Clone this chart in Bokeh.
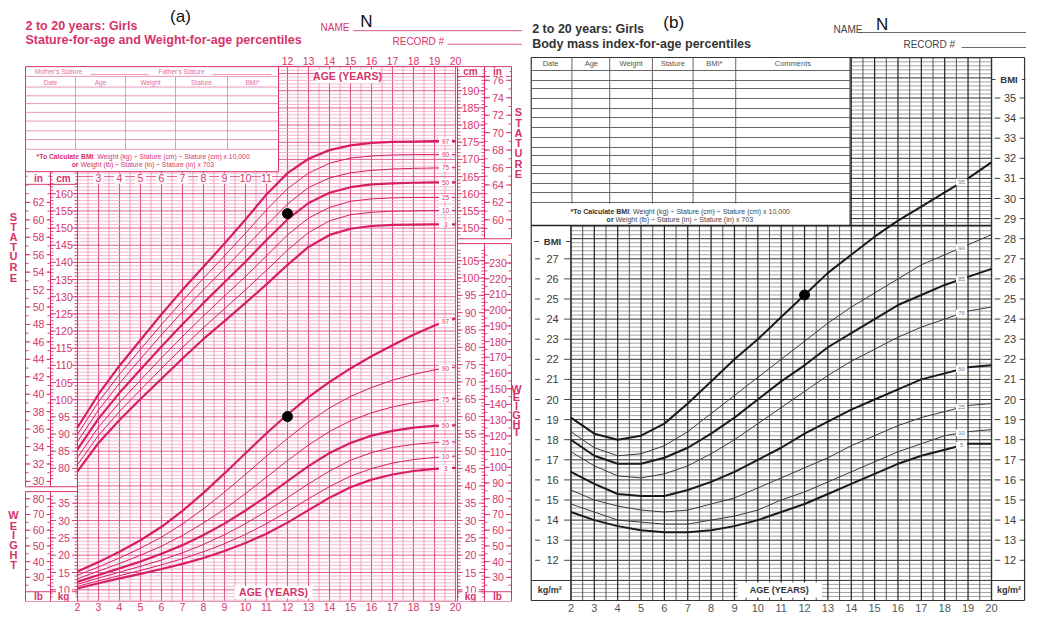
import numpy as np
from bokeh.plotting import figure
from bokeh.models import Range1d, FixedTicker
from bokeh.layouts import row
from bokeh.core.properties import value
from bokeh.embed import file_html
from bokeh.resources import INLINE

# ---------------- data ----------------
ages = [2, 3, 4, 5, 6, 7, 8, 9, 10, 11, 12, 13, 14, 15, 16, 17, 18, 19, 20]
age_ticks = list(range(2, 21))
top_age_ticks = list(range(12, 21))
inner_age_ticks = list(range(3, 12))

stature_p97 = [91.9, 101.6, 109.9, 117.4, 124.9, 132.0, 138.7, 145.5, 152.5, 159.8, 166.0, 170.2, 172.7, 174.1, 174.8, 175.1, 175.2, 175.3, 175.3]
stature_p90 = [89.9, 99.4, 107.4, 114.7, 121.9, 128.8, 135.4, 141.9, 148.5, 155.3, 161.5, 166.0, 168.9, 170.4, 171.0, 171.3, 171.4, 171.4, 171.4]
stature_p75 = [87.8, 97.0, 104.8, 111.9, 118.9, 125.6, 132.0, 138.2, 144.5, 150.8, 157.0, 161.8, 164.6, 166.1, 166.8, 167.2, 167.4, 167.5, 167.6]
stature_p50 = [85.5, 94.5, 102.0, 108.8, 115.5, 122.0, 128.2, 134.2, 140.2, 146.5, 152.5, 157.3, 160.3, 161.9, 162.7, 163.0, 163.2, 163.3, 163.3]
stature_p25 = [83.2, 92.0, 99.2, 105.7, 112.2, 118.4, 124.4, 130.2, 135.9, 141.9, 148.0, 152.9, 156.0, 157.8, 158.5, 158.8, 158.9, 158.9, 158.9]
stature_p10 = [81.1, 89.6, 96.6, 102.9, 109.1, 115.2, 121.0, 126.5, 132.0, 137.7, 143.6, 148.7, 152.1, 153.9, 154.6, 154.9, 155.0, 155.1, 155.1]
stature_p3 = [79.1, 87.4, 94.1, 100.2, 106.1, 112.0, 117.7, 122.9, 128.2, 133.6, 139.3, 144.5, 148.0, 149.8, 150.6, 150.9, 151.0, 151.1, 151.1]

weight_p97 = [15.3, 18.0, 21.0, 24.3, 28.2, 32.8, 38.0, 43.6, 49.4, 55.2, 60.6, 65.6, 70.0, 73.9, 77.4, 80.6, 83.6, 86.3, 88.4]
weight_p90 = [14.2, 16.6, 19.2, 22.0, 25.2, 29.0, 33.4, 38.2, 43.3, 48.6, 53.7, 58.4, 62.5, 65.8, 68.4, 70.5, 72.2, 73.5, 74.3]
weight_p75 = [13.2, 15.4, 17.6, 20.0, 22.6, 25.7, 29.3, 33.3, 37.8, 42.5, 47.3, 51.8, 55.7, 58.8, 61.1, 62.8, 64.0, 64.8, 65.3]
weight_p50 = [12.3, 14.3, 16.2, 18.2, 20.4, 22.9, 25.8, 29.1, 32.9, 37.0, 41.4, 45.7, 49.5, 52.4, 54.5, 55.9, 56.8, 57.3, 57.5]
weight_p25 = [11.6, 13.4, 15.1, 16.8, 18.6, 20.7, 23.1, 25.9, 29.1, 32.7, 36.6, 40.6, 44.3, 47.4, 49.6, 51.1, 52.0, 52.5, 52.7]
weight_p10 = [11.0, 12.6, 14.1, 15.6, 17.2, 19.0, 21.0, 23.3, 26.0, 29.1, 32.6, 36.3, 39.8, 42.8, 45.0, 46.6, 47.6, 48.2, 48.6]
weight_p3 = [10.4, 11.9, 13.3, 14.6, 16.0, 17.5, 19.2, 21.2, 23.5, 26.2, 29.4, 33.0, 36.6, 39.6, 41.8, 43.3, 44.3, 44.9, 45.2]

bmi_p95 = [19.1, 18.3, 18.0, 18.2, 18.8, 19.8, 20.9, 22.0, 23.0, 24.1, 25.2, 26.3, 27.2, 28.1, 28.9, 29.6, 30.3, 31.0, 31.8]
bmi_p90 = [18.4, 17.6, 17.2, 17.3, 17.7, 18.4, 19.3, 20.2, 21.1, 22.0, 22.9, 23.8, 24.6, 25.3, 26.0, 26.7, 27.2, 27.7, 28.2]
bmi_p85 = [18.0, 17.2, 16.8, 16.8, 17.1, 17.6, 18.3, 19.1, 20.0, 20.9, 21.7, 22.6, 23.3, 24.0, 24.7, 25.2, 25.7, 26.1, 26.5]
bmi_p75 = [17.4, 16.7, 16.2, 16.1, 16.3, 16.7, 17.3, 18.0, 18.8, 19.6, 20.4, 21.2, 21.9, 22.5, 23.1, 23.6, 24.0, 24.4, 24.6]
bmi_p50 = [16.4, 15.8, 15.3, 15.2, 15.2, 15.5, 15.9, 16.4, 17.0, 17.6, 18.3, 18.9, 19.5, 20.0, 20.5, 21.0, 21.3, 21.6, 21.7]
bmi_p25 = [15.5, 15.0, 14.7, 14.5, 14.4, 14.5, 14.8, 15.1, 15.6, 16.1, 16.6, 17.1, 17.7, 18.2, 18.7, 19.1, 19.4, 19.7, 19.8]
bmi_p10 = [14.8, 14.4, 14.0, 13.9, 13.8, 13.8, 14.0, 14.2, 14.5, 15.0, 15.4, 15.9, 16.4, 16.9, 17.4, 17.8, 18.2, 18.4, 18.5]
bmi_p5 = [14.4, 14.0, 13.7, 13.5, 13.4, 13.4, 13.5, 13.7, 14.0, 14.4, 14.8, 15.3, 15.8, 16.3, 16.8, 17.2, 17.5, 17.8, 17.8]

patient_age = [12]
patient_stature = [154.2]
patient_weight = [60.0]
patient_bmi = [25.2]

stature_ticks_left = list(range(80, 161, 5))
inch_ticks_left = list(range(30, 63, 2))
stature_ticks_right = list(range(150, 191, 5))
inch_ticks_right = list(range(60, 77, 2))
kg_ticks_left = list(range(10, 36, 5))
lb_ticks_left = list(range(30, 81, 10))
kg_ticks_right = list(range(10, 106, 5))
lb_ticks_right = list(range(30, 231, 10))
bmi_ticks_left = list(range(12, 28))
bmi_ticks_right = list(range(12, 36))

FONT = "Liberation Sans"


class Deco:
    def __init__(self, p, fx, fy):
        self.p, self.fx, self.fy = p, fx, fy

    def segs(self, segs, color, width):
        self.p.segment(x0=[self.fx(s[0]) for s in segs], y0=[self.fy(s[1]) for s in segs],
                       x1=[self.fx(s[2]) for s in segs], y1=[self.fy(s[3]) for s in segs],
                       line_color=color, line_width=width)

    def texts(self, items, size, color, bold=False, align="center", font=FONT):
        self.p.text(x=[self.fx(i[0]) for i in items], y=[self.fy(i[1]) for i in items],
                    text=[i[2] for i in items], text_font=value(font), text_font_size=size,
                    text_color=color, text_align=align, text_baseline="middle",
                    text_font_style="bold" if bold else "normal")

    def boxes(self, items, color="white"):
        self.p.quad(left=[self.fx(b[0]) for b in items], right=[self.fx(b[2]) for b in items],
                    top=[self.fy(b[1]) for b in items], bottom=[self.fy(b[3]) for b in items],
                    fill_color=color, line_color=None)


def style_xaxis(p, color, size):
    xa = p.xaxis[0]
    xa.ticker = FixedTicker(ticks=age_ticks)
    xa.axis_line_color = None
    xa.major_tick_line_color = None
    xa.minor_tick_line_color = None
    xa.major_tick_out = 0
    xa.major_tick_in = 0
    xa.major_label_standoff = 1
    xa.major_label_text_color = color
    xa.major_label_text_font = FONT
    xa.major_label_text_font_size = size


# ======================= Panel (a) =======================
PK_LINE = "#d81e63"
PK_TEXT = "#d6336c"
PK_MAJ = "#de4f86"
PK_MIN = "#ee9bbb"
PK_TAB = "#e57ba4"


def ax(xr):
    return 2 + (xr - 77) / 21.0


def ay(yr):
    return 150 + (234 - yr) / 3.53


def akg(yr):
    return 10 + (606 - yr) / 3.5625


KG2LB = 2.20462
pa = figure(width=522, height=617, x_range=Range1d(ax(0), ax(522)), y_range=Range1d(ay(618), ay(0)),
            output_backend="svg", toolbar_location=None, y_axis_location=None,
            min_border_left=0, min_border_right=0, min_border_top=0, min_border_bottom=13,
            outline_line_color=None, background_fill_color="white", border_fill_color="white")
pa.grid.visible = False
pa.extra_y_ranges = {
    "kg": Range1d(akg(618), akg(0)),
    "inch": Range1d(ay(618) / 2.54, ay(0) / 2.54),
    "lb": Range1d(akg(618) * KG2LB, akg(0) * KG2LB),
}
style_xaxis(pa, PK_TEXT, "10.5px")
da = Deco(pa, ax, ay)

# grid
half = np.arange(2.0, 20.01, 0.5)
vmaj = [(a, ay(68) if a >= 11.99 else ay(176), a, ay(618)) for a in half if a == int(a)]
vmin = [(a, ay(68) if a >= 11.99 else ay(176), a, ay(618)) for a in half if a != int(a)]
for segs, col, w in ((vmin, PK_MIN, 0.9), (vmaj, PK_MAJ, 1.1)):
    pa.segment(x0=[s[0] for s in segs], y0=[s[1] for s in segs], x1=[s[2] for s in segs],
               y1=[s[3] for s in segs], line_color=col, line_width=w)
hs_min, hs_maj = [], []
for c in range(77, 198):
    x0 = ax(278) if c > 166 else 2
    (hs_maj if c % 5 == 0 else hs_min).append((x0, c))
for segs, col, w in ((hs_min, PK_MIN, 0.7), (hs_maj, PK_MAJ, 0.9)):
    pa.segment(x0=[s[0] for s in segs], y0=[s[1] for s in segs], x1=[20] * len(segs),
               y1=[s[1] for s in segs], line_color=col, line_width=w)
hk_min = [k for k in range(7, 42) if k % 5]
hk_maj = [k for k in range(7, 42) if k % 5 == 0]
for ks, col, w in ((hk_min, PK_MIN, 0.7), (hk_maj, PK_MAJ, 0.9)):
    pa.segment(x0=[2] * len(ks), y0=ks, x1=[20] * len(ks), y1=ks, line_color=col,
               line_width=w, y_range_name="kg")

# frame / boxes
borders_a = [
    (25, 68, 511, 68), (25, 68, 25, 500), (25, 176, 278, 176), (278, 68, 278, 176),
    (50, 176, 50, 500), (77, 176, 77, 618), (25, 500, 77, 500), (25, 505, 77, 505),
    (25, 505, 25, 618), (50, 505, 50, 618), (25, 608, 77, 608), (25, 618, 511, 618),
    (457, 68, 457, 618), (484, 68, 484, 245), (511, 68, 511, 245), (457, 245, 511, 245),
    (457, 250, 511, 250), (484, 250, 484, 618), (511, 250, 511, 618), (457, 608, 511, 608),
    (25, 189, 77, 189), (457, 78, 511, 78),
]
da.segs(borders_a, PK_TEXT, 1.0)

# table
table_a = [(25, 78, 278, 78)] + [(25, y, 278, y) for y in (89, 98, 106, 115, 124, 134, 143, 153)] \
    + [(x, 78, x, 153) for x in (75, 125, 175, 227)] + [(90, 76, 148, 76), (212, 76, 271, 76)]
da.segs(table_a, PK_TAB, 0.8)
da.texts([(58, 73, "Mother's Stature"), (181, 73, "Father's Stature"),
          (50, 84, "Date"), (100, 84, "Age"), (150, 84, "Weight"), (201, 84, "Stature"),
          (252, 84, "BMI*")], "6.5px", "#e0709a")
da.texts([(93, 160, "*To Calculate BMI"), (78, 169, "or")], "6.8px", PK_TEXT, bold=True, align="right")
da.texts([(93, 160, ": Weight (kg) ÷ Stature (cm) ÷ Stature (cm) x 10,000"),
          (80, 169, "Weight (lb) ÷ Stature (in) ÷ Stature (in) x 703")], "6.8px", PK_TEXT, align="left")


# column ticks
def col_ticks(p, vals, xl, xr, length, rng, fx, color):
    segs = [(xl, v, xl + length, v) for v in vals] + [(xr - length, v, xr, v) for v in vals]
    kw = {} if rng is None else {"y_range_name": rng}
    p.segment(x0=[fx(s[0]) for s in segs], y0=[s[1] for s in segs], x1=[fx(s[2]) for s in segs],
              y1=[s[3] for s in segs], line_color=color, line_width=0.9, **kw)


for vals, xl, xr, ln, rng in (
        (list(range(30, 66)), 25, 50, 3, "inch"), (inch_ticks_left, 25, 50, 6, "inch"),
        (list(range(77, 167)), 50, 77, 3, None), (stature_ticks_left, 50, 77, 6, None),
        (list(range(8, 38)), 50, 77, 3, "kg"), (kg_ticks_left, 50, 77, 6, "kg"),
        (list(range(25, 82, 5)), 25, 50, 3, "lb"), (lb_ticks_left, 25, 50, 6, "lb"),
        (list(range(148, 197)), 457, 484, 3, None), (stature_ticks_right, 457, 484, 6, None),
        (list(range(59, 78)), 484, 511, 3, "inch"), (inch_ticks_right, 484, 511, 6, "inch"),
        (list(range(8, 109)), 457, 484, 3, "kg"), (kg_ticks_right, 457, 484, 6, "kg"),
        (list(range(25, 236, 5)), 484, 511, 3, "lb"), (lb_ticks_right, 484, 511, 6, "lb")):
    col_ticks(pa, vals, xl, xr, ln, rng, ax, PK_TEXT)


def tick_labels(p, fx, xr, vals, rng, color, size="10.5px"):
    kw = {} if rng is None else {"y_range_name": rng}
    p.rect(x=[fx(xr)] * len(vals), y=vals, width=16, height=9, width_units="screen",
           height_units="screen", fill_color="white", line_color=None, **kw)
    p.text(x=[fx(xr)] * len(vals), y=vals, text=[str(v) for v in vals], text_font=value(FONT),
           text_font_size=size, text_color=color, text_align="center", text_baseline="middle", **kw)


tick_labels(pa, ax, 38, inch_ticks_left, "inch", PK_TEXT)
tick_labels(pa, ax, 63.5, stature_ticks_left, None, PK_TEXT)
tick_labels(pa, ax, 63.5, kg_ticks_left, "kg", PK_TEXT)
tick_labels(pa, ax, 38, lb_ticks_left, "lb", PK_TEXT)
tick_labels(pa, ax, 470, stature_ticks_right, None, PK_TEXT)
tick_labels(pa, ax, 497.5, inch_ticks_right, "inch", PK_TEXT)
tick_labels(pa, ax, 470, kg_ticks_right, "kg", PK_TEXT)
tick_labels(pa, ax, 497.5, lb_ticks_right, "lb", PK_TEXT)

# curves
stature_series = [("97", stature_p97, True), ("90", stature_p90, False), ("75", stature_p75, False),
                  ("50", stature_p50, True), ("25", stature_p25, False), ("10", stature_p10, False),
                  ("3", stature_p3, True)]
weight_series = [("97", weight_p97, True), ("90", weight_p90, False), ("75", weight_p75, False),
                 ("50", weight_p50, True), ("25", weight_p25, False), ("10", weight_p10, False),
                 ("3", weight_p3, True)]
for lab, vals, thick in stature_series:
    pa.line(ages, vals, line_color=PK_LINE, line_width=2.2 if thick else 1.0)
for lab, vals, thick in weight_series:
    pa.line(ages, vals, line_color=PK_LINE, line_width=2.2 if thick else 1.0, y_range_name="kg")

lab_age_a = ax(445)
for series, rng in ((stature_series, None), (weight_series, "kg")):
    kw = {} if rng is None else {"y_range_name": rng}
    ys = [float(np.interp(lab_age_a, ages, s[1])) for s in series]
    pa.rect(x=[lab_age_a] * len(ys), y=ys, width=13, height=7, width_units="screen",
            height_units="screen", fill_color="white", line_color=None, **kw)
    pa.text(x=[lab_age_a] * len(ys), y=ys, text=[s[0] for s in series], text_font=value(FONT),
            text_font_size="6.5px", text_color=PK_TEXT, text_align="center", text_baseline="middle", **kw)

# labels
da.boxes([(316, 71, 378, 85), (234, 602, 312, 615)])
da.texts([(347, 78, "AGE (YEARS)"), (273, 608, "AGE (YEARS)")], "10.5px", PK_TEXT, bold=True)
da.texts([(25, 26, "2 to 20 years: Girls"), (25, 41, "Stature-for-age and Weight-for-age percentiles")],
         "12.5px", PK_TEXT, bold=True, align="left")
da.texts([(180, 16, "(a)"), (366, 22, "N")], "17px", "#111111")
da.texts([(320, 28, "NAME"), (392, 42, "RECORD #")], "10px", PK_TEXT, align="left")
da.segs([(353, 31, 522, 31), (447, 45, 522, 45)], PK_TEXT, 0.8)
pa.text(x=top_age_ticks, y=[ay(62)] * len(top_age_ticks), text=[str(v) for v in top_age_ticks],
        text_font=value(FONT), text_font_size="10.5px", text_color=PK_TEXT, text_align="center",
        text_baseline="middle")
pa.rect(x=inner_age_ticks, y=[ay(183)] * len(inner_age_ticks), width=11, height=10, width_units="screen",
        height_units="screen", fill_color="white", line_color=None)
pa.text(x=inner_age_ticks, y=[ay(183)] * len(inner_age_ticks), text=[str(v) for v in inner_age_ticks],
        text_font=value(FONT), text_font_size="10.5px", text_color=PK_TEXT, text_align="center",
        text_baseline="middle")
da.boxes([(27, 178, 48, 188), (52, 178, 75, 188), (27, 609, 48, 617), (52, 609, 75, 617),
          (459, 609, 482, 617), (486, 609, 509, 617), (459, 69, 482, 77), (486, 69, 509, 77)])
da.texts([(38, 183, "in"), (63, 183, "cm"), (38, 613, "lb"), (63, 613, "kg"),
          (470, 613, "kg"), (497, 613, "lb"), (470, 73, "cm"), (497, 73, "in")],
         "10px", PK_TEXT, bold=True)
da.texts([(13, y, ch) for y, ch in zip((223, 233, 243, 253, 263, 274, 285), "STATURE")]
         + [(13, y, ch) for y, ch in zip((529, 540, 550, 560, 570, 580), "WEIGHT")]
         + [(518, y, ch) for y, ch in zip((115, 126, 136, 147, 157, 168, 178), "STATURE")]
         + [(516, y, ch) for y, ch in zip((400, 408, 417, 426, 435, 444), "WEIGHT")],
         "11px", PK_TEXT, bold=True)

# patient points
pa.scatter(patient_age, patient_stature, size=10, color="black")
pa.scatter(patient_age, patient_weight, size=10, color="black", y_range_name="kg")

# ======================= Panel (b) =======================
G_TXT = "#3c3c3c"


def bx(xr):
    return 2 + (xr - 572) / 24.1


def by(yr):
    return 20 + (399 - yr) / 20.1


pb = figure(width=504, height=617, x_range=Range1d(bx(522), bx(1042)), y_range=Range1d(by(601), by(0)),
            output_backend="svg", toolbar_location=None, y_axis_location=None,
            min_border_left=0, min_border_right=0, min_border_top=0, min_border_bottom=16,
            outline_line_color=None, background_fill_color="white", border_fill_color="white")
pb.grid.visible = False
style_xaxis(pb, "#555555", "11px")
pb.xaxis[0].major_label_standoff = 2
db = Deco(pb, bx, by)

vmaj = [(a, by(57) if a >= 13.99 else by(225)) for a in half if a == int(a)]
vmin = [(a, by(57) if a >= 13.99 else by(225)) for a in half if a != int(a)]
hmaj, hmin = [], []
for i in range(50, 186):
    b = i / 5.0
    x0 = bx(860) if b > by(225) else 2
    (hmaj if i % 5 == 0 else hmin).append((x0, b))
pb.segment(x0=[s[0] for s in hmin], y0=[s[1] for s in hmin], x1=[20] * len(hmin), y1=[s[1] for s in hmin],
           line_color="#7a7a7a", line_width=0.7)
pb.segment(x0=[s[0] for s in hmaj], y0=[s[1] for s in hmaj], x1=[20] * len(hmaj), y1=[s[1] for s in hmaj],
           line_color="#2e2e2e", line_width=1.0)
pb.segment(x0=[s[0] for s in vmin], y0=[s[1] for s in vmin], x1=[s[0] for s in vmin],
           y1=[by(600)] * len(vmin), line_color="#444444", line_width=0.9)
pb.segment(x0=[s[0] for s in vmaj], y0=[s[1] for s in vmaj], x1=[s[0] for s in vmaj],
           y1=[by(600)] * len(vmaj), line_color="#222222", line_width=1.2)

db.segs([(531, 57, 1040, 57), (531, 57, 531, 600), (1040, 57, 1040, 600), (531, 600, 1040, 600),
         (860, 57, 860, 225), (572, 225, 572, 600), (1006, 57, 1006, 600),
         (531, 580, 572, 580), (1006, 580, 1040, 580)], "#333333", 1.2)
db.segs([(531, 225, 1006, 225)], "#222222", 1.6)
table_b = [(x, 57, x, 203) for x in (573, 612, 656, 698, 742)] + \
    [(531, y, 860, y) for y in (70, 80, 88, 98, 108, 117, 127, 137, 147, 155, 165, 173, 183, 192, 202)]
db.segs(table_b, "#555555", 0.9)
db.texts([(551, 63, "Date"), (593, 63, "Age"), (634, 63, "Weight"), (677, 63, "Stature"),
          (720, 63, "BMI*"), (801, 63, "Comments")], "7.5px", "#555555")
db.texts([(632, 211, "*To Calculate BMI"), (616, 219, "or")], "7px", "#333333", bold=True, align="right")
db.texts([(632, 211, ": Weight (kg) ÷ Stature (cm) ÷ Stature (cm) x 10,000"),
          (618, 219, "Weight (lb) ÷ Stature (in) ÷ Stature (in) x 703")], "7px", "#444444", align="left")

# BMI columns
lt = [(535, b, 540, b) for b in bmi_ticks_left] + [(565, b, 571, b) for b in bmi_ticks_left]
rt = [(1009, b, 1015, b) for b in bmi_ticks_right] + [(1035, b, 1041, b) for b in bmi_ticks_right]
pb.segment(x0=[bx(s[0]) for s in lt + rt], y0=[s[1] for s in lt + rt], x1=[bx(s[2]) for s in lt + rt],
           y1=[s[3] for s in lt + rt], line_color="#444444", line_width=1.0)
pb.text(x=[bx(553)] * len(bmi_ticks_left), y=bmi_ticks_left, text=[str(v) for v in bmi_ticks_left],
        text_font=value(FONT), text_font_size="11px", text_color=G_TXT, text_align="center",
        text_baseline="middle")
pb.text(x=[bx(1025)] * len(bmi_ticks_right), y=bmi_ticks_right, text=[str(v) for v in bmi_ticks_right],
        text_font=value(FONT), text_font_size="11px", text_color=G_TXT, text_align="center",
        text_baseline="middle")
db.segs([(534, 241, 539, 241), (567, 241, 572, 241), (1006, 79, 1010, 79), (1037, 79, 1041, 79)], "#444444", 1.0)
db.texts([(553, 241, "BMI"), (1024, 79, "BMI")], "9.5px", "#333333", bold=True)
db.boxes([(744, 582, 831, 597)])
db.texts([(550, 589, "kg/m²"), (1024, 589, "kg/m²"), (787, 589, "AGE (YEARS)")], "9px", "#333333", bold=True)

bmi_series = [("95", bmi_p95, True), ("90", bmi_p90, False), ("85", bmi_p85, True), ("75", bmi_p75, False),
              ("50", bmi_p50, True), ("25", bmi_p25, False), ("10", bmi_p10, False), ("5", bmi_p5, True)]
for lab, vals, thick in bmi_series:
    pb.line(ages, vals, line_color="#1a1a1a" if thick else "#3a3a3a", line_width=2.0 if thick else 1.0)
lab_age_b = bx(975)
ys = [float(np.interp(lab_age_b, ages, s[1])) for s in bmi_series]
pb.rect(x=[lab_age_b] * len(ys), y=ys, width=11, height=7, width_units="screen", height_units="screen",
        fill_color="white", line_color=None)
pb.text(x=[lab_age_b] * len(ys), y=ys, text=[s[0] for s in bmi_series], text_font=value(FONT),
        text_font_size="6px", text_color="#777777", text_align="center", text_baseline="middle")

db.texts([(532, 28, "2 to 20 years: Girls"), (532, 43, "Body mass index-for-age percentiles")],
         "12.5px", "#333333", bold=True, align="left")
db.texts([(678, 22, "(b)"), (893, 24, "N")], "17px", "#111111")
db.texts([(843, 29, "NAME"), (915, 44, "RECORD #")], "10px", "#444444", align="left")
db.segs([(870, 32, 1042, 32), (975, 47, 1042, 47)], "#444444", 0.8)

pb.scatter(patient_age, patient_bmi, size=10, color="black")

layout = row(pa, pb)
open("out.html", "w").write(file_html(layout, INLINE))
